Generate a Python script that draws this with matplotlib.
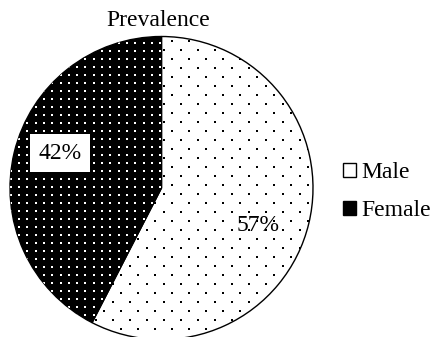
import numpy as np
import matplotlib.pyplot as plt

plt.rcParams['font.family'] = ['Liberation Serif', 'DejaVu Serif']

labels = ['Male', 'Female']
values = [57, 42]
faces = ['white', 'black']
dot_colors = ['black', 'white']
# dot texture: (spacing within a row, row spacing, stagger) in pixels
dot_grid = [(17.0, 9.0, True), (8.3, 8.0, False)]

fig = plt.figure(figsize=(4.34, 3.37), dpi=100)
W, H = 434, 337
cx, cy, r = 161.5, 337 - 188, 151.5
ax = fig.add_axes([(cx - r) / W, (cy - r) / H, 2 * r / W, 2 * r / H])

wedges, texts = ax.pie(values, startangle=90, counterclock=False,
                       colors=faces, labels=[f'{v}%' for v in values],
                       labeldistance=0.68,
                       wedgeprops=dict(edgecolor='black', linewidth=1.0))

# dotted fill, clipped to each wedge
px = 1.0 / r
for w, dc, (dx, dy, stag) in zip(wedges, dot_colors, dot_grid):
    w.set_clip_on(False)
    xs, ys = [], []
    rows = np.arange(-1.05, 1.05, dy * px)
    for i, y in enumerate(rows):
        off = (dx * px / 2) if (stag and i % 2) else 0.0
        row_x = np.arange(-1.05, 1.05, dx * px) + off
        xs.extend(row_x)
        ys.extend([y] * len(row_x))
    sc = ax.scatter(xs, ys, s=2.2, marker='s', c=dc, linewidths=0, zorder=1.5)
    sc.set_clip_path(w)

for t in texts:
    t.set_ha('center')
    t.set_va('center')
    t.set_fontsize(17)
    t.set_zorder(3)
texts[0].set_position((0.64, -0.25))
texts[1].set_position((-0.67, 0.23))
texts[1].set_bbox(dict(facecolor='white', edgecolor='none', pad=6))

ax.set_xlim(-1, 1)
ax.set_ylim(-1, 1)
ax.set_aspect('equal')
ax.axis('off')

fig.text(158 / W, 1 - 20 / H, 'Prevalence', ha='center', va='center', fontsize=17)

fig.legend(wedges, labels, loc='center left', bbox_to_anchor=(322 / W, 1 - 192 / H),
           frameon=False, fontsize=17, handlelength=0.52, handleheight=0.52,
           handletextpad=0.25, labelspacing=0.72)

fig.savefig('out.png', dpi=100)
